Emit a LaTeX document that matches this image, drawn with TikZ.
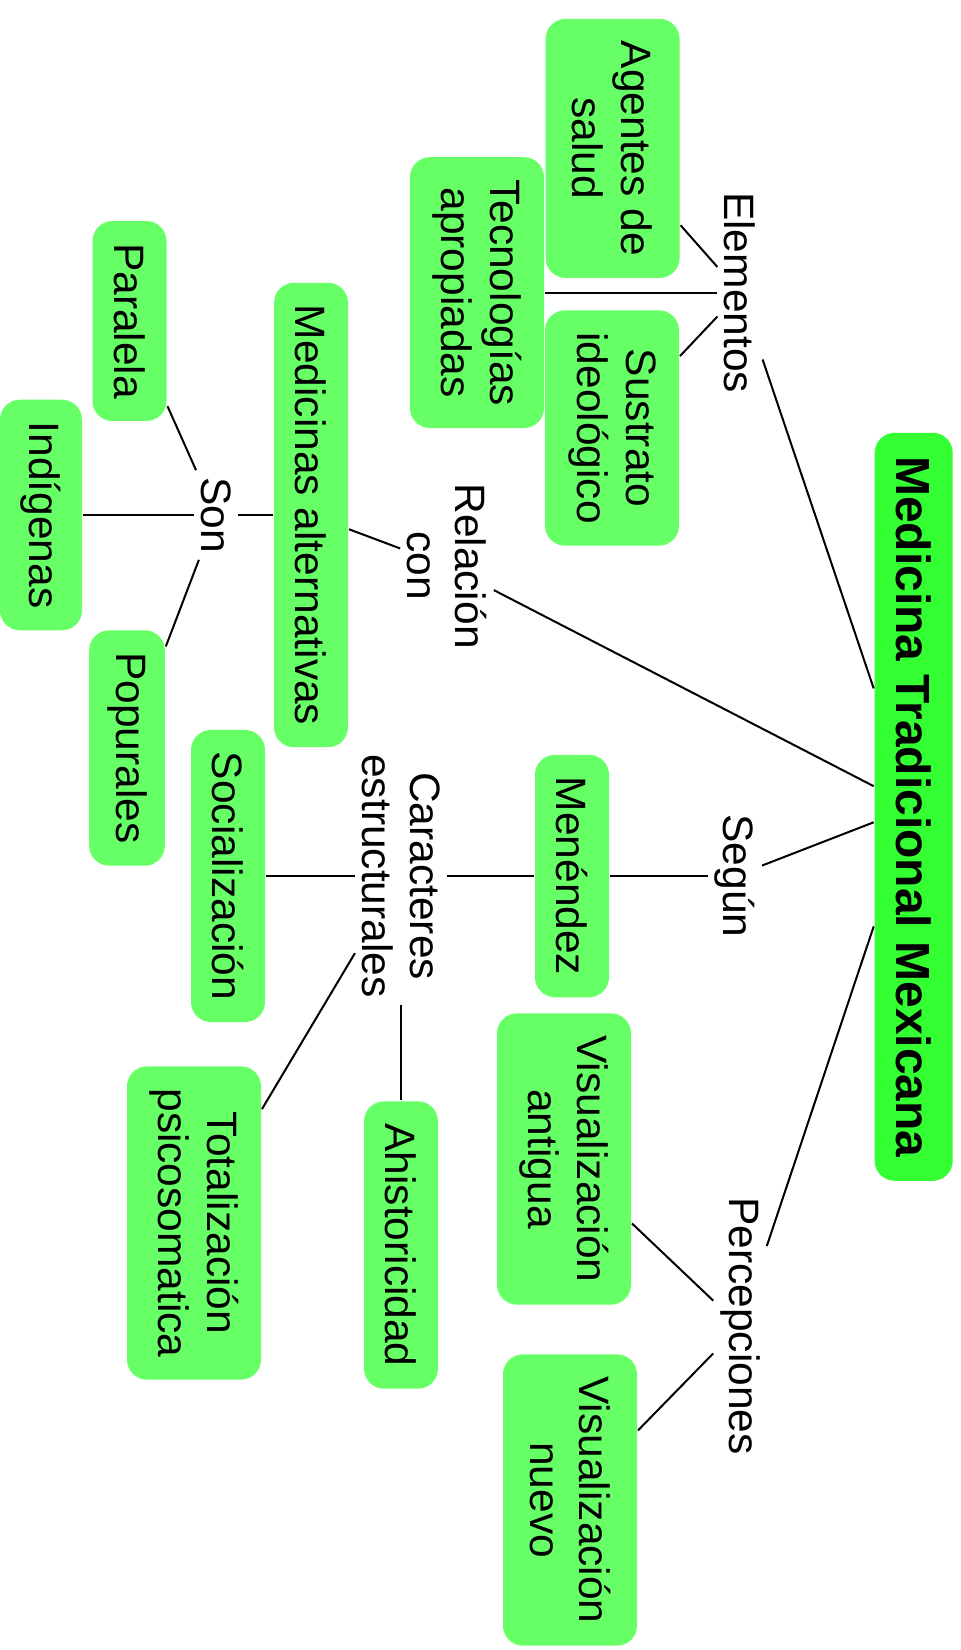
\documentclass[tikz,border=0pt]{standalone}
\usepackage{fontspec}
\setmainfont{Liberation Sans}
\usetikzlibrary{positioning}

\definecolor{verdeclaro}{RGB}{102,255,102}
\definecolor{verdefuerte}{RGB}{51,255,51}

\tikzset{
  concepto/.style={rectangle, rounded corners=10pt, fill=verdeclaro, rotate=-90,
    align=center, inner xsep=11pt, inner ysep=9pt, minimum height=37pt,
    font=\fontsize{21.25}{24.5}\selectfont},
  doble/.style={concepto, minimum height=67pt},
  titulo/.style={rectangle, rounded corners=10pt, fill=verdefuerte, rotate=-90,
    inner sep=0pt, minimum width=374pt, minimum height=39pt,
    font=\bfseries\fontsize{24}{28}\selectfont},
  enlace/.style={rotate=-90, align=center, inner sep=3pt,
    font=\fontsize{21.25}{24}\selectfont}
}

\begin{document}
\begin{tikzpicture}[x=0.5pt, y=-0.5pt, line width=1pt]
\useasboundingbox (0,0) rectangle (960,1650);

\node [titulo] (mtm) at (913.7,806.8) {Medicina Tradicional Mexicana};

% elementos
\node [enlace] (elementos) at (740,292.6) {Elementos};
\node [doble] (agentes) at (612.6,148.4) {Agentes de\\salud};
\node [doble] (tecnologias) at (477,292.6) {Tecnologías\\apropiadas};
\node [doble] (sustrato) at (612,428) {Sustrato\\ideológico};
\path (mtm) edge (elementos);
\path (elementos) edge (agentes);
\path (elementos) edge (tecnologias);
\path (elementos) edge (sustrato);

% relacion con
\node [enlace] (relacion) at (447,566) {Relación\\con};
\node [concepto] (medicinas) at (311,515) {Medicinas alternativas};
\node [enlace] (son) at (216,515) {Son};
\node [concepto] (paralela) at (129.5,321) {Paralela};
\node [concepto, minimum height=41pt] (indigenas) at (41,515) {Indígenas};
\node [concepto] (populares) at (127,748) {Popurales};
\path (mtm) edge (relacion);
\path (relacion) edge (medicinas);
\path (medicinas) edge (son);
\path (son) edge (paralela);
\path (son) edge (indigenas);
\path (son) edge (populares);

% segun
\node [enlace] (segun) at (735,876) {Según};
\node [concepto] (menendez) at (572,876) {Menéndez};
\node [enlace] (caracteres) at (401,876) {Caracteres\\estructurales};
\node [concepto] (socializacion) at (228,876) {Socialización};
\node [concepto] (ahistoricidad) at (401,1245) {Ahistoricidad};
\node [doble] (totalizacion) at (194,1223) {Totalización\\psicosomatica};
\path (mtm) edge (segun);
\path (segun) edge (menendez);
\path (menendez) edge (caracteres);
\path (caracteres) edge (socializacion);
\path (caracteres) edge (ahistoricidad);
\path (caracteres) edge (totalizacion);

% percepciones
\node [enlace] (percepciones) at (740,1326) {Percepciones};
\node [doble] (antigua) at (564,1159) {Visualización\\antigua};
\node [doble] (nuevo) at (570,1500) {Visualización\\nuevo};
\path (mtm) edge (percepciones);
\path (percepciones) edge (antigua);
\path (percepciones) edge (nuevo);

\end{tikzpicture}
\end{document}
